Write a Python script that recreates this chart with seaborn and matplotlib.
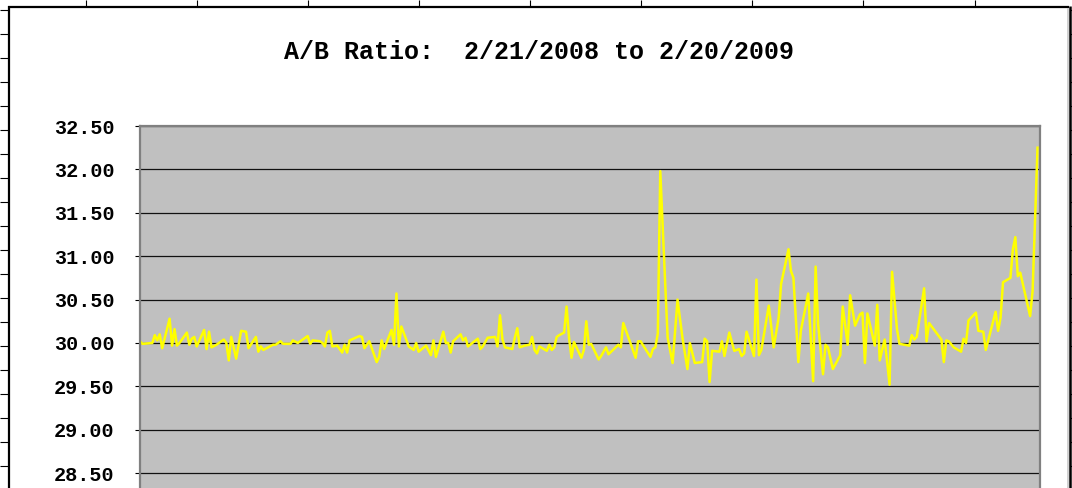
import numpy as np
import pandas as pd
import matplotlib
matplotlib.use("Agg")
import matplotlib.pyplot as plt
import seaborn as sns

# ---- data: days since 2/21/2008 and the A/B ratio ----
start_date = "2008-02-21"
end_date = "2009-02-20"
days = [0, 1, 5, 6, 7, 8, 9, 12, 13, 14, 15, 16, 19, 20, 21, 22, 23, 26, 27, 28, 29, 31,
        34, 35, 36, 37, 39, 41, 43, 44, 47, 48, 49, 50, 54, 55, 57, 58, 61, 62, 64, 68, 69, 70,
        73, 74, 75, 76, 77, 78, 80, 82, 83, 84, 85, 89, 90, 91, 93, 96, 97, 98, 99,
        102, 103, 104, 105, 106, 109, 111, 112, 113, 116, 118, 119, 120, 123, 124, 125, 126, 127,
        130, 131, 132, 133, 137, 138, 139, 141, 144, 145,
        146, 147, 148, 151, 152, 153, 154, 156, 158, 159, 160, 161, 162, 165, 166, 167, 168, 169, 170,
        172, 173, 174, 175, 176, 179, 180, 181, 182, 183, 186, 187, 189, 190, 194, 195,
        196, 201, 202, 203, 207, 208, 209, 210, 211, 213, 214, 216, 218, 220, 222, 223, 225,
        228, 229, 230, 231, 232, 235, 236, 237, 239, 241, 243, 244, 245, 246, 249, 250, 251, 252,
        255, 257, 259, 260, 263, 264, 265, 267, 268, 271, 273, 274, 275, 277, 278, 279, 281,
        284, 285, 287, 288, 290, 292, 293, 294, 295, 298, 299, 300, 302, 304, 305, 307, 308,
        312, 313, 314, 315, 318, 319, 320, 325, 326, 327, 328, 330, 333, 334, 335, 336,
        339, 340, 342, 343, 347, 348, 349, 350, 353, 354, 355, 356, 357, 361, 362, 364]
ratio = [30.02, 29.99, 30.00, 30.09, 30.03, 30.10, 29.94, 30.28, 29.97, 30.16, 29.97, 30.00, 30.12, 29.98, 30.05, 30.07, 29.96, 30.15, 29.93, 30.13, 29.95, 29.98,
         30.04, 30.00, 29.80, 30.07, 29.82, 30.14, 30.13, 29.94, 30.07, 29.90, 29.96, 29.92, 29.98, 29.98, 30.02, 29.99, 29.99, 30.03, 30.00, 30.08, 29.99, 30.03,
         30.02, 30.00, 29.96, 30.12, 30.14, 29.96, 29.97, 29.89, 29.98, 29.89, 30.03, 30.08, 30.07, 29.94, 30.02, 29.78, 29.84, 30.03, 29.93,
         30.15, 29.98, 30.57, 29.96, 30.19, 29.96, 29.92, 30.00, 29.90, 29.97, 29.86, 30.03, 29.84, 30.13, 30.00, 30.00, 29.89, 30.02,
         30.10, 30.03, 30.06, 29.96, 30.05, 29.93, 29.96, 30.06, 30.07, 29.96,
         30.32, 30.04, 29.95, 29.93, 30.06, 30.17, 29.95, 29.97, 29.98, 30.07, 29.92, 29.88, 29.96, 29.91, 29.98, 29.92, 29.95, 30.07, 30.09,
         30.12, 30.42, 30.06, 29.83, 30.01, 29.83, 29.92, 30.25, 29.98, 29.99, 29.81, 29.85, 29.95, 29.87, 29.98, 29.95,
         30.23, 29.83, 30.02, 30.02, 29.84, 29.93, 29.95, 30.11, 31.98, 30.68, 30.06, 29.77, 30.50, 30.06, 29.70, 30.00, 29.77,
         29.78, 30.05, 30.02, 29.55, 29.91, 29.90, 30.02, 29.85, 30.12, 29.91, 29.93, 29.85, 29.88, 30.13, 29.85, 30.73, 29.86, 29.92,
         30.43, 29.95, 30.29, 30.68, 31.08, 30.83, 30.75, 29.78, 30.14, 30.57, 29.56, 30.88, 30.22, 29.64, 29.98, 29.95, 29.70,
         29.86, 30.42, 29.98, 30.55, 30.20, 30.33, 30.35, 29.77, 30.34, 29.97, 30.44, 29.80, 30.04, 29.52, 30.82, 30.16, 29.99,
         29.97, 30.09, 30.04, 30.07, 30.63, 30.02, 30.23, 30.04, 29.78, 30.03, 30.02, 29.95, 29.90, 30.05, 30.00, 30.26,
         30.35, 30.14, 30.13, 29.92, 30.36, 30.14, 30.29, 30.70, 30.75, 31.08, 31.22, 30.77, 30.81, 30.31, 30.60, 32.25]
y_ticks = [28.5, 29.0, 29.5, 30.0, 30.5, 31.0, 31.5, 32.0, 32.5]
title = "A/B Ratio:  2/21/2008 to 2/20/2009"

n = min(len(days), len(ratio))
t0 = pd.Timestamp(start_date)
df = pd.DataFrame({"date": t0 + pd.to_timedelta(np.array(days[:n]), unit="D"),
                   "ratio": ratio[:n]})

W, H = 1072, 488
fig = plt.figure(figsize=(W / 100, H / 100), dpi=100, facecolor="white")
MONO = ["Liberation Mono", "DejaVu Sans Mono"]

# ---- spreadsheet cells and chart-area frame (pixel space) ----
bg = fig.add_axes([0, 0, 1, 1], zorder=0)
bg.set_xlim(0, W)
bg.set_ylim(H, 0)
bg.axis("off")
cols = [85.7 + 111.1 * k for k in range(9)]
rows = [9.5 + 24 * k for k in range(21)]
for cx in cols:
    bg.plot([cx, cx], [0, 6], color="black", lw=0.8, solid_capstyle="butt")
for ry in rows:
    if ry < H:
        bg.plot([0, 8], [ry, ry], color="black", lw=0.8, solid_capstyle="butt")
        bg.plot([1070, W], [ry, ry], color="black", lw=0.8, solid_capstyle="butt")
bg.plot([8, 1069], [6.5, 6.5], color="black", lw=1.6, solid_capstyle="butt")
bg.plot([8.8, 8.8], [6, H], color="black", lw=1.6, solid_capstyle="butt")
bg.plot([1067.5, 1067.5], [7.5, H], color="#c8c8c8", lw=1.2, solid_capstyle="butt")
bg.plot([1069.5, 1069.5], [5.7, H], color="black", lw=1.8, solid_capstyle="butt")

# ---- plot area ----
left, right, top = 140, 1040, 126
px_per_unit = 86.8
ymin, ymax = 28.0, 32.5
bottom = top + (ymax - ymin) * px_per_unit
ax = fig.add_axes([left / W, (H - bottom) / H, (right - left) / W, (bottom - top) / H], zorder=1)
ax.set_facecolor("#c0c0c0")

sns.lineplot(data=df, x="date", y="ratio", ax=ax, color="#ffff00", linewidth=1.8)

ax.set_xlim(t0, pd.Timestamp(end_date))
ax.set_ylim(ymin, ymax)
ax.set_yticks(y_ticks)
ax.set_yticklabels([f"{v:.2f}" for v in y_ticks])
ax.set_xticks([])
ax.set_xlabel("")
ax.set_ylabel("")
ax.set_axisbelow(True)
ax.yaxis.grid(True, color="#111111", linewidth=0.9)
ax.xaxis.grid(False)
ax.tick_params(axis="y", direction="out", length=3.6, width=0.8, color="black", pad=14.5,
               labelsize=14.5, labelcolor="black")
for lab in ax.get_yticklabels():
    lab.set_fontfamily(MONO)
    lab.set_fontweight("bold")
for side in ["top", "left", "right"]:
    ax.spines[side].set_color("#808080")
    ax.spines[side].set_linewidth(1.6)
ax.spines["bottom"].set_visible(False)

fig.text(538.5 / W, 1 - 59.3 / H, title, ha="center", va="baseline",
         fontsize=18, fontweight="bold", family=MONO, color="black")

fig.savefig("out.png", dpi=100, facecolor="white")
